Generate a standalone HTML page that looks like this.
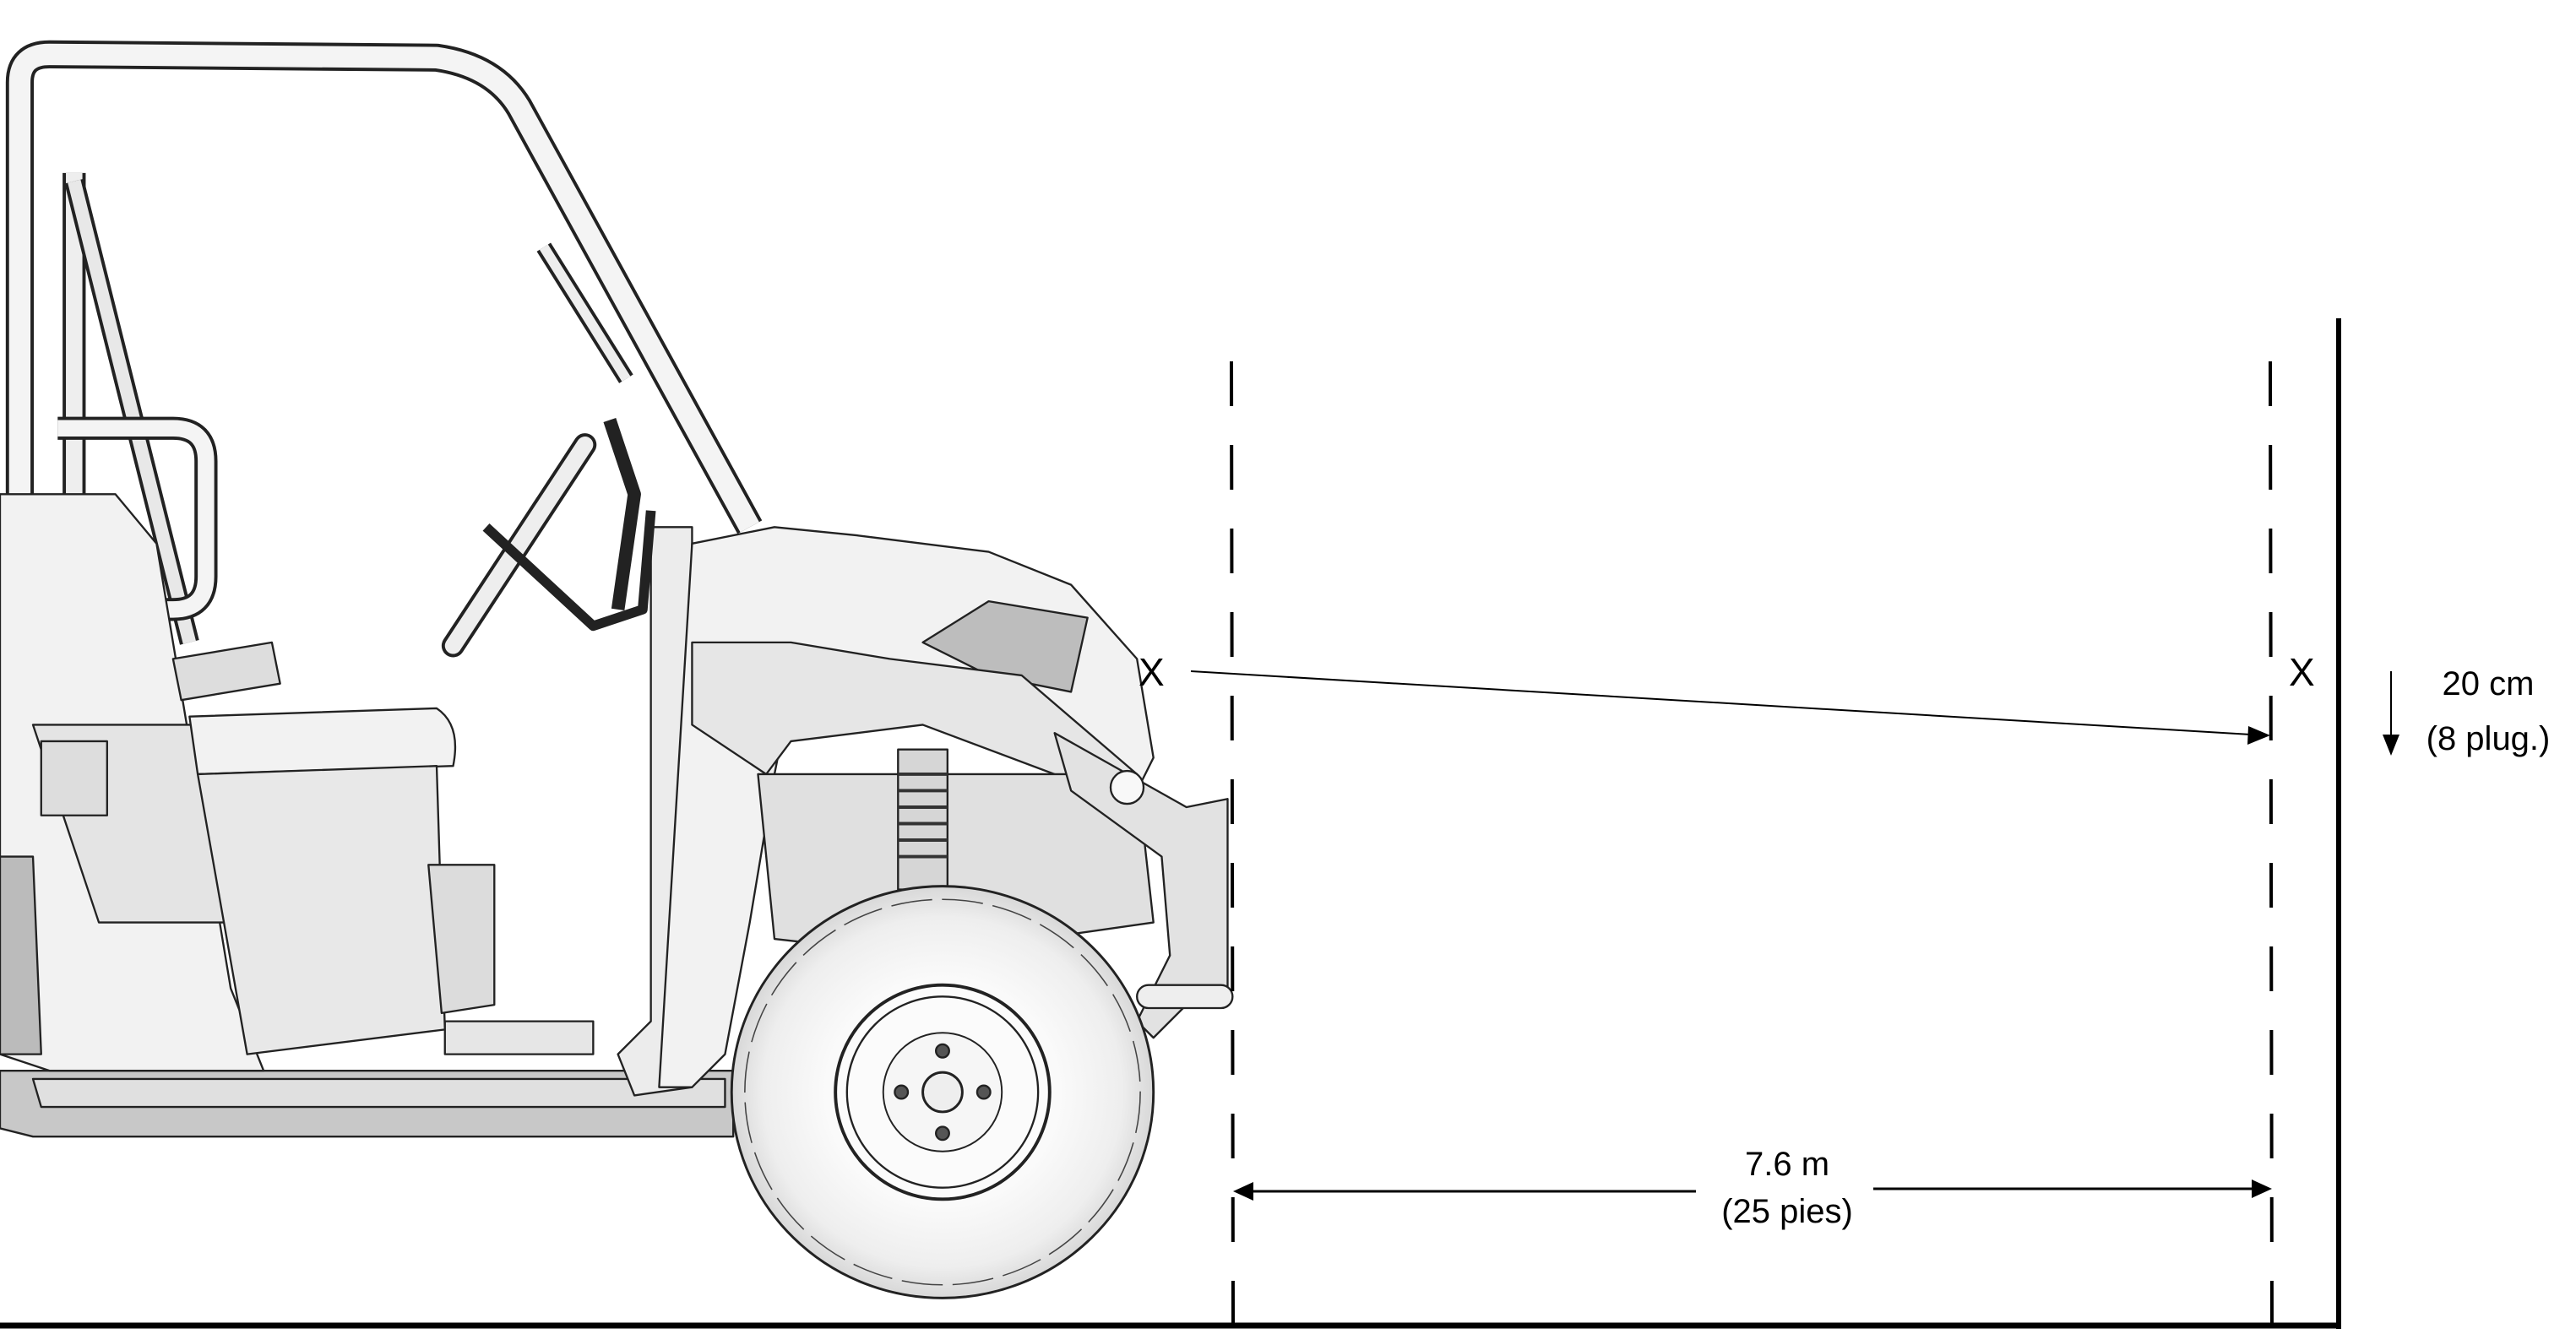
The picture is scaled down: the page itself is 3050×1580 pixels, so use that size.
<!DOCTYPE html>
<html><head><meta charset="utf-8"><style>
html,body{margin:0;padding:0;background:#fff}
svg{display:block}
text{font-family:"Liberation Sans",sans-serif;fill:#000}
</style></head><body>
<svg width="3050" height="1580" viewBox="0 0 3050 1580" xmlns="http://www.w3.org/2000/svg">
<defs>
<radialGradient id="tire" cx="0.5" cy="0.5" r="0.5">
<stop offset="0.55" stop-color="#fafafa"/><stop offset="0.85" stop-color="#eeeeee"/><stop offset="1" stop-color="#d8d8d8"/>
</radialGradient>
</defs>
<!-- vehicle (preview coords scaled) -->
<g transform="scale(1.951)" stroke="#222" stroke-width="1.2" stroke-linejoin="round" fill="#f2f2f2">
<!-- chassis shadow/floor -->
<path d="M0 650 L445 650 L445 690 L20 690 L0 685 Z" fill="#c8c8c8"/>
<path d="M20 655 L440 655 L440 672 L25 672 Z" fill="#e0e0e0"/>
<!-- roll cage outer -->
<path d="M12 640 L12 50 Q12 33 30 33 L265 35 Q300 40 315 65 L455 320" fill="none" stroke="#222" stroke-width="17"/>
<path d="M12 640 L12 50 Q12 33 30 33 L265 35 Q300 40 315 65 L455 320" fill="none" stroke="#f4f4f4" stroke-width="13"/>
<!-- rear upright -->
<path d="M45 105 L45 600" fill="none" stroke="#222" stroke-width="14"/>
<path d="M45 105 L45 600" fill="none" stroke="#eee" stroke-width="10"/>
<path d="M45 110 L115 390" fill="none" stroke="#222" stroke-width="12"/>
<path d="M45 110 L115 390" fill="none" stroke="#e8e8e8" stroke-width="8"/>
<!-- grab handle -->
<path d="M35 260 L105 260 Q125 260 125 280 L125 350 Q125 370 105 370 L90 370" fill="none" stroke="#222" stroke-width="14"/>
<path d="M35 260 L105 260 Q125 260 125 280 L125 350 Q125 370 105 370 L90 370" fill="none" stroke="#f4f4f4" stroke-width="10"/>
<!-- A pillar handle -->
<path d="M330 150 L380 230" fill="none" stroke="#222" stroke-width="10"/>
<path d="M330 150 L380 230" fill="none" stroke="#eee" stroke-width="6"/>
<!-- rear body panel -->
<path d="M0 300 L70 300 L95 330 L140 600 L160 650 L30 650 L0 640 Z"/>
<path d="M20 440 L120 440 L140 560 L60 560 Z" fill="#e4e4e4"/>
<rect x="25" y="450" width="40" height="45" fill="#ddd"/>
<path d="M0 520 L20 520 L25 640 L0 640 Z" fill="#bbb"/>
<!-- seat -->
<path d="M115 435 L265 430 Q280 440 275 465 L120 470 Z"/>
<path d="M120 470 L265 465 L270 625 L150 640 Z" fill="#e8e8e8"/>
<path d="M260 525 L300 525 L300 610 L268 615 Z" fill="#dcdcdc"/>
<!-- seat belt -->
<path d="M105 400 L165 390 L170 415 L110 425 Z" fill="#ddd"/>
<!-- floor frame -->
<path d="M270 620 L360 620 L360 640 L270 640 Z" fill="#e6e6e6"/>
<!-- door frame front pillar -->
<path d="M395 320 L420 320 L420 660 L385 665 L375 640 L395 620 Z" fill="#ececec"/>
<!-- steering -->
<path d="M275 392 L355 270" fill="none" stroke="#222" stroke-width="14" stroke-linecap="round"/>
<path d="M275 392 L355 270" fill="none" stroke="#eee" stroke-width="10" stroke-linecap="round"/>
<path d="M295 320 L360 380 L390 370 L395 310" fill="none" stroke="#222" stroke-width="6"/>
<path d="M370 255 L385 300 L375 370" fill="none" stroke="#222" stroke-width="8"/>
<!-- front body / hood -->
<path d="M420 330 L470 320 L520 325 L600 335 L650 355 L690 400 L700 460 L690 480 L600 440 L540 430 L480 420 L470 470 L455 560 L440 640 L420 660 L400 660 Z"/>
<path d="M560 390 L600 365 L660 375 L650 420 L600 410 Z" fill="#bdbdbd"/>
<path d="M420 390 L480 390 L540 400 L620 410 L690 470 L690 500 L640 470 L560 440 L480 450 L465 470 L420 440 Z" fill="#e6e6e6"/>
<!-- suspension & engine area -->
<path d="M460 470 L690 470 L700 560 L560 580 L470 570 Z" fill="#e0e0e0"/>
<rect x="545" y="455" width="30" height="85" fill="#d6d6d6"/>
<path d="M545 470 L575 470 M545 480 L575 480 M545 490 L575 490 M545 500 L575 500 M545 510 L575 510 M545 520 L575 520" stroke="#333" stroke-width="2"/>
<!-- bumper -->
<path d="M640 445 L720 490 L745 485 L745 605 L720 610 L700 630 L690 620 L710 580 L705 520 L650 480 Z" fill="#e2e2e2"/>
<circle cx="684" cy="478" r="10" fill="#f8f8f8"/>
<rect x="690" y="598" width="58" height="14" rx="7" fill="#eee"/>
<!-- wheel -->
<ellipse cx="572" cy="663" rx="128" ry="125" fill="url(#tire)" stroke-width="1.5"/>
<ellipse cx="572" cy="663" rx="120" ry="117" fill="none" stroke-dasharray="25 6" stroke="#444" stroke-width="0.8"/>
<circle cx="572" cy="663" r="65" fill="#fbfbfb" stroke-width="2"/>
<circle cx="572" cy="663" r="58" fill="none" stroke-width="1.2"/>
<circle cx="572" cy="663" r="36" fill="#f6f6f6" stroke-width="1"/>
<circle cx="572" cy="663" r="12" fill="#eee" stroke-width="1.5"/>
<circle cx="572" cy="638" r="4" fill="#555"/>
<circle cx="572" cy="688" r="4" fill="#555"/>
<circle cx="547" cy="663" r="4" fill="#555"/>
<circle cx="597" cy="663" r="4" fill="#555"/>
</g>
<!-- dashed lines -->
<line x1="1458" y1="428" x2="1460" y2="1572" stroke="#000" stroke-width="4" stroke-dasharray="53 46"/>
<line x1="2688" y1="428" x2="2690" y2="1572" stroke="#000" stroke-width="4" stroke-dasharray="53 46"/>
<!-- wall -->
<line x1="2769" y1="377" x2="2769" y2="1574" stroke="#000" stroke-width="6"/>
<!-- ground -->
<line x1="0" y1="1570" x2="2772" y2="1570" stroke="#000" stroke-width="7"/>
<!-- diagonal arrow -->
<line x1="1410" y1="795" x2="2665" y2="870" stroke="#000" stroke-width="2"/>
<polygon points="2688,871 2662,860 2661,882" fill="#000"/>
<!-- X labels -->
<text x="1348" y="812" font-size="46">X</text>
<text x="2710" y="812" font-size="46">X</text>
<!-- 20 cm -->
<line x1="2831" y1="795" x2="2831" y2="872" stroke="#000" stroke-width="2"/>
<polygon points="2821,870 2841,870 2831,895" fill="#000"/>
<text x="2946" y="823" font-size="40" text-anchor="middle">20 cm</text>
<text x="2946" y="888" font-size="40" text-anchor="middle">(8 plug.)</text>
<!-- dimension -->
<line x1="1480" y1="1411" x2="2008" y2="1411" stroke="#000" stroke-width="3"/>
<polygon points="1460,1411 1484,1400 1484,1422" fill="#000"/>
<line x1="2218" y1="1408" x2="2668" y2="1408" stroke="#000" stroke-width="3"/>
<polygon points="2690,1408 2666,1397 2666,1419" fill="#000"/>
<text x="2116" y="1392" font-size="40" text-anchor="middle">7.6 m</text>
<text x="2116" y="1448" font-size="40" text-anchor="middle">(25 pies)</text>
</svg>
</body></html>
